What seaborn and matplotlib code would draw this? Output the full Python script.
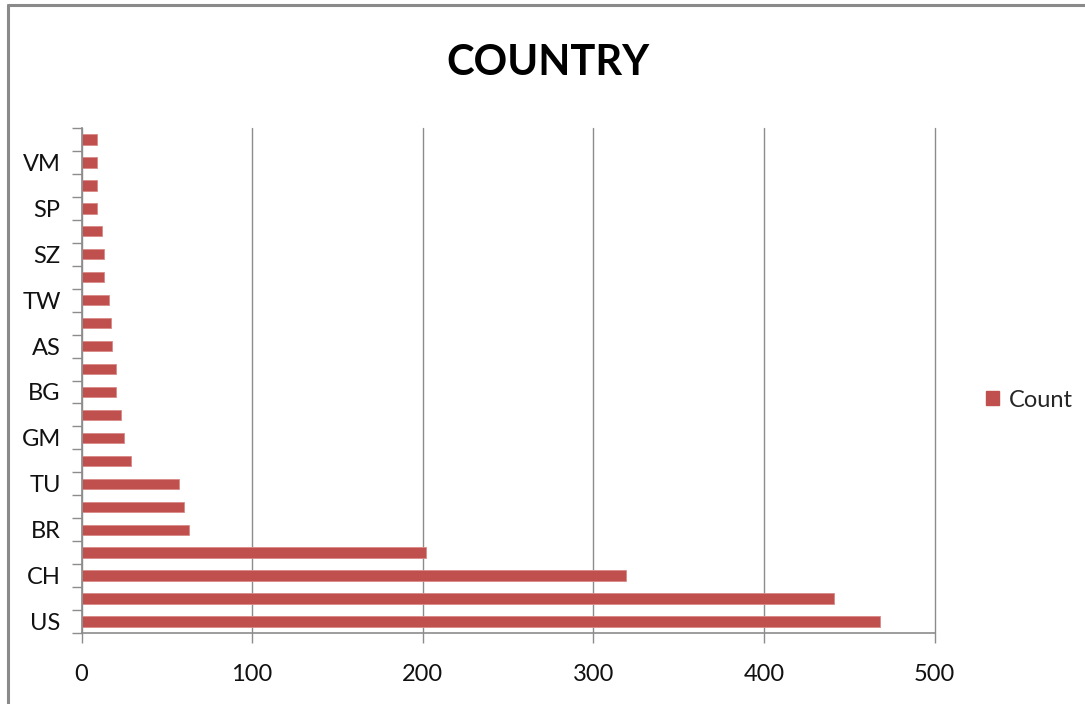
import matplotlib
matplotlib.use("Agg")
import matplotlib.pyplot as plt
from matplotlib.lines import Line2D
from matplotlib.patches import Patch
from matplotlib.ticker import FixedLocator
import seaborn as sns
import pandas as pd

# Country codes and counts, listed from the bottom bar to the top bar
countries = ["US", "IN", "CH", "UK", "BR", "CA", "TU", "JA", "GM", "IT", "BG",
             "FR", "AS", "KS", "TW", "NL", "SZ", "MX", "SP", "PK", "VM", "IR"]
counts = [468, 441, 319, 202, 63, 60, 57, 29, 25, 23, 20,
          20, 18, 17, 16, 13, 13, 12, 9, 9, 9, 9]
x_ticks = [0, 100, 200, 300, 400, 500]
series_name = "Count"
title = "COUNTRY"

BAR = "#c0504d"
GRID = "#8c8c8c"
W, H = 1085, 704

sns.set_theme(style="white")
plt.rcParams["font.family"] = ["Lato", "DejaVu Sans"]

df = pd.DataFrame({"country": countries, "count": counts})
order = countries[::-1]  # seaborn draws the first category at the top

fig = plt.figure(figsize=(W / 100, H / 100), dpi=100)
fig.patch.set_facecolor("white")
ax = fig.add_axes([81.5 / W, (H - 633) / H, (934.5 - 81.5) / W, (633 - 128) / H])

sns.barplot(data=df, y="country", x="count", order=order, orient="h",
            color=BAR, saturation=1, width=0.45, ax=ax,
            edgecolor="#d98a88", linewidth=0.6)

ax.set_xlim(0, 500)
ax.set_ylim(len(order) - 0.5, -0.5)
ax.set_xlabel("")
ax.set_ylabel("")

# x axis: gridlines at every hundred
ax.set_xticks(x_ticks)
ax.set_xticklabels([str(t) for t in x_ticks], fontsize=17)
ax.xaxis.grid(True, color=GRID, linewidth=1.0)
ax.yaxis.grid(False)
ax.set_axisbelow(True)
for gl in ax.get_xgridlines():
    gl.set_clip_on(False)
ax.tick_params(axis="x", which="major", length=7, width=1.0, color=GRID,
               direction="out", pad=15, bottom=True)

# y axis: every other category labelled, tick marks between categories
ax.set_yticks(range(len(order)))
labels = [name if (i % 2 == 1) else "" for i, name in enumerate(order)]
ax.set_yticklabels(labels, fontsize=17)
ax.yaxis.set_minor_locator(FixedLocator([i - 0.5 for i in range(len(order) + 1)]))
ax.tick_params(axis="y", which="major", length=0, pad=15)
ax.tick_params(axis="y", which="minor", length=7, width=1.0, color=GRID,
               direction="out", left=True)

for side in ("top", "right"):
    ax.spines[side].set_visible(False)
for side in ("left", "bottom"):
    ax.spines[side].set_color(GRID)
    ax.spines[side].set_linewidth(1.2)

for lab in ax.get_xticklabels() + ax.get_yticklabels():
    lab.set_color("#111111")

fig.text(548 / W, 1 - 75 / H, title, ha="center", va="baseline",
         fontsize=30, fontweight="bold", color="black")

fig.legend(handles=[Patch(facecolor=BAR, edgecolor=BAR, label=series_name)],
           loc="center left", bbox_to_anchor=(986 / W, 1 - 400 / H),
           frameon=False, fontsize=17, handlelength=0.55, handleheight=0.55,
           handletextpad=0.4, borderpad=0, borderaxespad=0)

# outer frame along the left and top edges
fig.add_artist(Line2D([8 / W, 8 / W], [0, 1 - 5 / H], transform=fig.transFigure,
                      color="#8a8a8a", linewidth=2.2))
fig.add_artist(Line2D([8 / W, 1], [1 - 5 / H, 1 - 5 / H], transform=fig.transFigure,
                      color="#8a8a8a", linewidth=2.2))

fig.savefig("out.png", dpi=100, facecolor="white")
